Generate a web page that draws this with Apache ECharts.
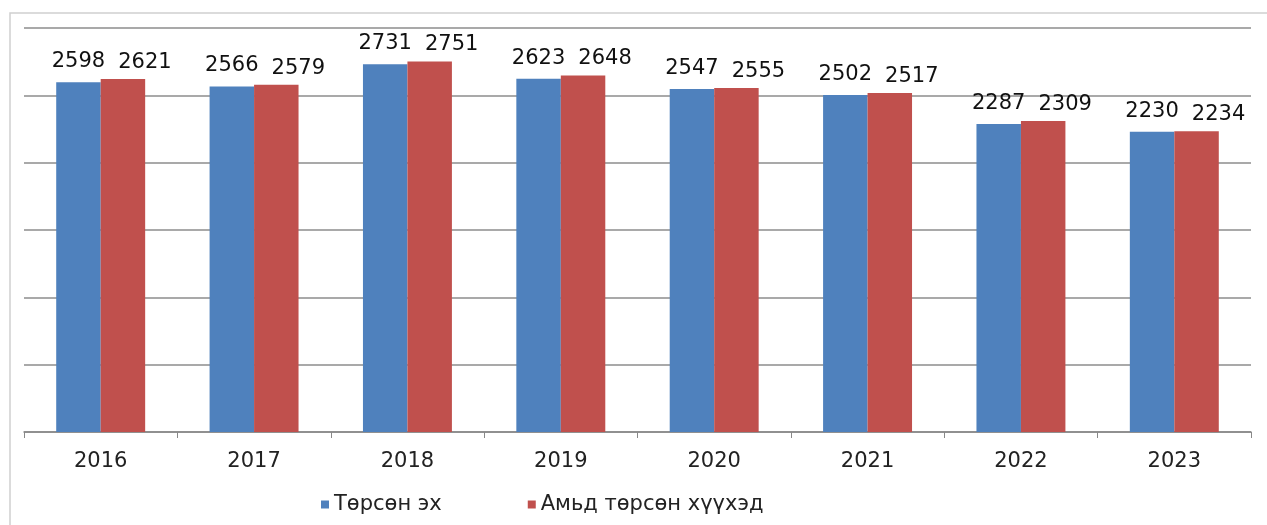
<!DOCTYPE html>
<html><head><meta charset="utf-8">
<script src="https://cdn.jsdelivr.net/npm/echarts@6/dist/echarts.min.js"></script>
<style>html,body{margin:0;padding:0;background:#fff}#c{width:1267px;height:525px}</style>
</head><body><div id="c"></div>
<script>
const categories = ['2016','2017','2018','2019','2020','2021','2022','2023'];
const mothers = [2598,2566,2731,2623,2547,2502,2287,2230];
const liveBirths = [2621,2579,2751,2648,2555,2517,2309,2234];
const seriesNames = ['Төрсөн эх','Амьд төрсөн хүүхэд'];

const FONT = 'DejaVu Sans, Arial';
const chart = echarts.init(document.getElementById('c'));
chart.setOption({
  animation:false,
  backgroundColor:'#fff',
  graphic:[{type:'rect',shape:{x:10,y:13,width:1270,height:530},style:{fill:'none',stroke:'#d0d0d0',lineWidth:1.5},silent:true}],
  grid:{left:24,right:16,top:28,bottom:93,containLabel:false},
  legend:{bottom:5,left:316,itemWidth:8,itemHeight:8,itemGap:86,icon:'rect',
    textStyle:{fontFamily:FONT,fontSize:21,color:'#222'},
    data:seriesNames},
  xAxis:{type:'category',data:categories,
    axisLine:{lineStyle:{color:'#888',width:1.5}},
    axisTick:{show:true,length:6,lineStyle:{color:'#888'}},
    axisLabel:{fontFamily:FONT,fontSize:21,color:'#222',margin:19}},
  yAxis:{type:'value',min:0,max:3000,interval:500,
    axisLabel:{show:false},axisLine:{show:false},axisTick:{show:false},
    splitLine:{lineStyle:{color:'#8c8c8c',width:1.5}}},
  series:[
    {name:seriesNames[0],type:'bar',data:mothers,barGap:'0%',barCategoryGap:'42%',
     itemStyle:{color:'#4F81BD'},
     label:{show:true,position:'top',distance:10,fontFamily:FONT,fontSize:21,color:'#111'}},
    {name:seriesNames[1],type:'bar',data:liveBirths,
     itemStyle:{color:'#C0504D'},
     label:{show:true,position:'top',distance:6,offset:[22,0],fontFamily:FONT,fontSize:21,color:'#111'}}
  ]
});
</script></body></html>
